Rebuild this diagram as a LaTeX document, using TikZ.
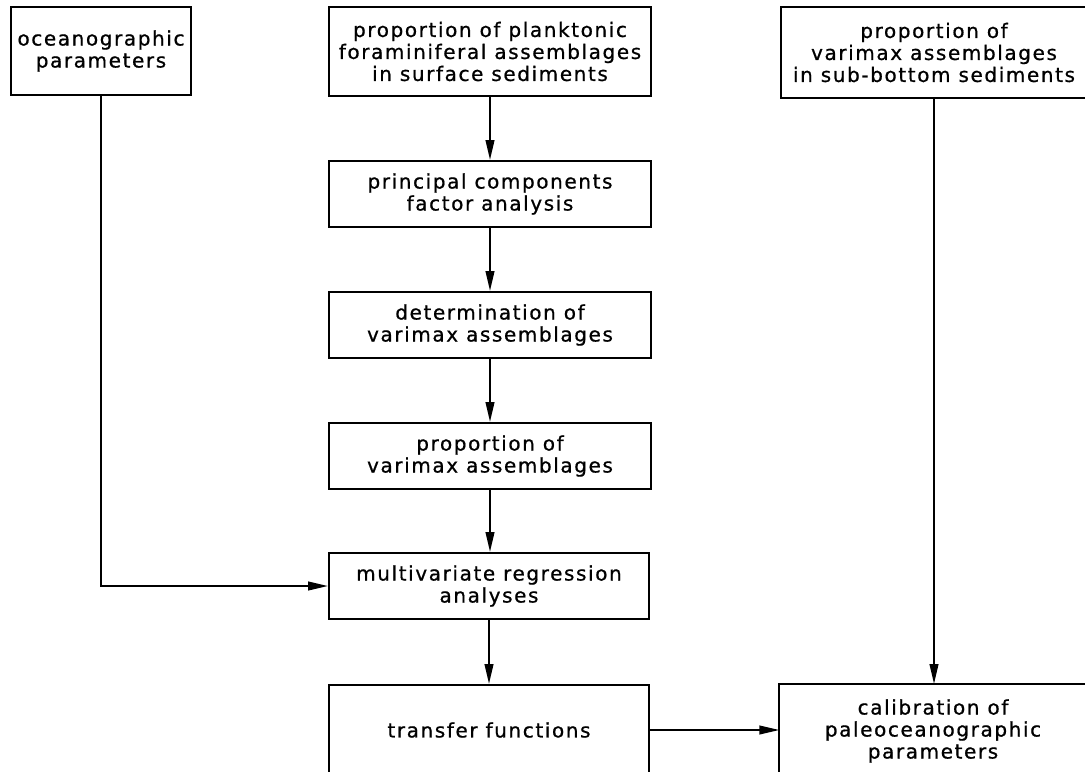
\documentclass[tikz,border=0pt]{standalone}
\usepackage{fontspec}
\setmainfont{DejaVu Sans}[LetterSpace=8,FakeBold=0.8]
\usetikzlibrary{arrows.meta}
\tikzset{
  box/.style={draw,line width=1.5pt,align=center,inner sep=0pt,
    font=\fontsize{15}{16.5}\selectfont},
  offenbox/.style={box,draw=none},
  rahmen/.style={line width=1.5pt},
  pfeil/.style={line width=1.5pt,-{Triangle[length=15pt,width=6.5pt]}}
}
\begin{document}
\begin{tikzpicture}[x=0.75pt,y=-0.75pt]
  % Rahmen
  \useasboundingbox (0,0) rectangle (1085,771);
  \clip (0,0) rectangle (1085,771);
  % obere Reihe
  \node[box,minimum width=135pt,minimum height=66pt] (ocean) at (101,51)
    {oceanographic\\parameters};
  \node[box,minimum width=241.5pt,minimum height=66.75pt] (surface) at (490,51.5)
    {proportion of planktonic\\foraminiferal assemblages\\in surface sediments};
  \node[offenbox,minimum width=228pt,minimum height=66.75pt] (subbottom) at (934,52.5)
    {proportion of\\varimax assemblages\\in sub-bottom sediments};
  % mittlere Spalte
  \node[box,minimum width=241.5pt,minimum height=49.5pt] (pcfa) at (490,194)
    {principal components\\factor analysis};
  \node[box,minimum width=241.5pt,minimum height=49.5pt] (determ) at (490,325)
    {determination of\\varimax assemblages};
  \node[box,minimum width=241.5pt,minimum height=49.5pt] (propvar) at (490,456)
    {proportion of\\varimax assemblages};
  \node[box,minimum width=240pt,minimum height=49.5pt] (multi) at (489,586)
    {multivariate regression\\analyses};
  % untere Reihe
  \node[box,minimum width=240pt,minimum height=67.5pt] (transfer) at (489,730)
    {transfer functions};
  \node[offenbox,minimum width=229pt,minimum height=69pt] (calib) at (933,731)
    {calibration of\\paleoceanographic\\parameters};
  % angeschnittene Kästen rechts
  \draw[rahmen] ([xshift=20pt]subbottom.north east) -- (subbottom.north west)
    -- (subbottom.south west) -- ([xshift=20pt]subbottom.south east);
  \draw[rahmen] ([xshift=20pt]calib.north east) -- (calib.north west)
    -- ([yshift=-20pt]calib.south west);
  % Pfeile
  \draw[pfeil] (surface) -- (pcfa);
  \draw[pfeil] (pcfa) -- (determ);
  \draw[pfeil] (determ) -- (propvar);
  \draw[pfeil] (propvar.south) -- (propvar.south |- multi.north);
  \draw[pfeil] (multi) -- (transfer);
  \draw[pfeil] (ocean.south) |- (multi.west);
  \draw[pfeil] (subbottom.south) -- (subbottom.south |- calib.north);
  \draw[pfeil] (transfer.east) -- (transfer.east -| calib.west);
\end{tikzpicture}
\end{document}
